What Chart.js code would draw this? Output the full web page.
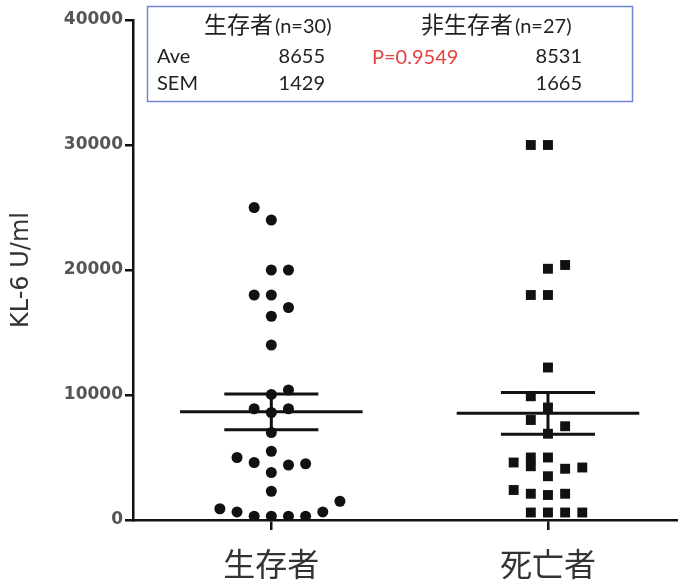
<!DOCTYPE html>
<html>
<head>
<meta charset="utf-8">
<script src="https://cdn.jsdelivr.net/npm/chart.js@4.4.0/dist/chart.umd.min.js"></script>
<style>
  body { margin: 0; background: #fff; }
  #wrap { width: 678px; height: 588px; position: relative; }
</style>
</head>
<body>
<div id="wrap"><canvas id="kl6Chart"></canvas></div>
<script>
// groups on the x axis
const categories = ['生存者', '死亡者'];
const groupPos = [1, 2];

// KL-6 values, with their beeswarm column
const survivorValues = [25000, 24000, 20000, 20000, 18000, 18000, 17000, 16300, 14000, 10400,
    10050, 8900, 8900, 8600, 7000, 5500, 5000, 4600, 4400, 4500,
    3800, 2300, 900, 1500, 650, 300, 300, 300, 300, 650];
const survivorCols = [-1, 0, 0, 1, -1, 0, 1, 0, 0, 1,
    0, -1, 1, 0, 0, 0, -2, -1, 1, 2,
    0, 0, -3, 4, -2, -1, 0, 1, 2, 3];

const deceasedValues = [30000, 30000, 20100, 20400, 18000, 18000, 12200, 9900, 9000, 8000,
    7500, 6900, 4600, 5000, 4300, 5000, 3500, 4100, 4200, 2400,
    2100, 2000, 2100, 600, 600, 600, 600];
const deceasedCols = [-1, 0, 0, 1, -1, 0, 0, -1, 0, -1,
    1, 0, -2, -1, -1, 0, 0, 1, 2, -2,
    -1, 0, 1, -1, 0, 1, 2];

// summary box
const boxGroups = ['生存者', '非生存者'];
const boxN = [30, 27];
const aveValues = [8655, 8531];
const semValues = [1429, 1665];
const pValue = '0.9549';

const yTicks = [0, 10000, 20000, 30000, 40000];

const colStep = 0.062;
const meanHalf = 0.33;
const semHalf = 0.17;

function toPoints(values, cols, center) {
    return values.map((v, i) => ({ x: center + cols[i] * colStep, y: v }));
}

function hLine(center, half, y) {
    return { data: [{ x: center - half, y: y }, { x: center + half, y: y }],
        showLine: true, pointRadius: 0, borderColor: '#111', borderWidth: 3 };
}

const datasets = [
    { data: toPoints(survivorValues, survivorCols, groupPos[0]), pointStyle: 'circle',
      pointRadius: 5.5, backgroundColor: '#111', borderColor: '#111', borderWidth: 0 },
    { data: toPoints(deceasedValues, deceasedCols, groupPos[1]), pointStyle: 'rect',
      pointRadius: 7, backgroundColor: '#111', borderColor: '#111', borderWidth: 0 }
];

groupPos.forEach((c, i) => {
    const m = aveValues[i], s = semValues[i];
    datasets.push(hLine(c, meanHalf, m));
    datasets.push(hLine(c, semHalf, m + s));
    datasets.push(hLine(c, semHalf, m - s));
    datasets.push({ data: [{ x: c, y: m - s }, { x: c, y: m + s }],
        showLine: true, pointRadius: 0, borderColor: '#111', borderWidth: 3 });
});

// the blue summary box on top of the plot
const summaryBox = {
    id: 'summaryBox',
    afterDraw(chart) {
        const ctx = chart.ctx;
        ctx.save();
        ctx.fillStyle = '#fff';
        ctx.fillRect(147, 6, 486, 96);
        ctx.strokeStyle = '#6f86d8';
        ctx.lineWidth = 1.5;
        ctx.strokeRect(147.5, 6.5, 485, 95);

        ctx.textBaseline = 'alphabetic';
        ctx.fillStyle = '#222';
        // header
        ctx.textAlign = 'left';
        ctx.font = '23px "Noto Sans CJK JP"';
        ctx.fillText(boxGroups[0], 204, 33);
        let w = ctx.measureText(boxGroups[0]).width;
        ctx.font = '20px Lato';
        ctx.fillText(`(n=${boxN[0]})`, 204 + w + 2, 33);

        ctx.font = '23px "Noto Sans CJK JP"';
        ctx.fillText(boxGroups[1], 421, 33);
        w = ctx.measureText(boxGroups[1]).width;
        ctx.font = '20px Lato';
        ctx.fillText(`(n=${boxN[1]})`, 421 + w + 2, 33);

        // rows
        ctx.font = '20px Lato';
        ctx.fillText('Ave', 157, 63);
        ctx.fillText('SEM', 157, 90);
        ctx.textAlign = 'right';
        ctx.fillText(String(aveValues[0]), 325, 63);
        ctx.fillText(String(semValues[0]), 325, 90);
        ctx.fillText(String(aveValues[1]), 582, 63);
        ctx.fillText(String(semValues[1]), 582, 90);

        ctx.textAlign = 'left';
        ctx.fillStyle = '#e8403f';
        ctx.fillText(`P=${pValue}`, 372, 64);
        ctx.restore();
    }
};

new Chart(document.getElementById('kl6Chart'), {
    type: 'scatter',
    data: { datasets: datasets },
    options: {
        responsive: true,
        maintainAspectRatio: false,
        animation: false,
        layout: { autoPadding: false, padding: { top: 20, right: 0, bottom: 0, left: 0 } },
        plugins: {
            legend: { display: false },
            tooltip: { enabled: false }
        },
        scales: {
            x: {
                type: 'linear',
                min: 0.5,
                max: 2.47,
                afterBuildTicks: (scale) => { scale.ticks = groupPos.map(v => ({ value: v })); },
                afterFit: (scale) => { scale.height = 68; },
                ticks: {
                    autoSkip: false,
                    maxRotation: 0,
                    padding: 15,
                    color: '#333',
                    font: { family: '"Noto Sans CJK JP"', size: 32 },
                    callback: (value, index) => categories[index]
                },
                grid: { drawOnChartArea: false, tickLength: 10, color: '#111', lineWidth: 2.5 },
                border: { color: '#111', width: 2.5 }
            },
            y: {
                min: 0,
                max: 40000,
                afterBuildTicks: (scale) => { scale.ticks = yTicks.map(v => ({ value: v })); },
                afterFit: (scale) => { scale.width = 133; },
                ticks: {
                    padding: 2,
                    color: '#555',
                    font: { family: '"DejaVu Sans"', size: 17, weight: 'bold' },
                    callback: (value) => String(value)
                },
                title: {
                    display: true,
                    text: 'KL-6 U/ml',
                    color: '#333',
                    font: { family: '"DejaVu Sans"', size: 24 },
                    padding: { top: 7, bottom: 0 }
                },
                grid: { drawOnChartArea: false, tickLength: 8, color: '#111', lineWidth: 2.5 },
                border: { color: '#111', width: 2.5 }
            }
        }
    },
    plugins: [summaryBox]
});
</script>
</body>
</html>
